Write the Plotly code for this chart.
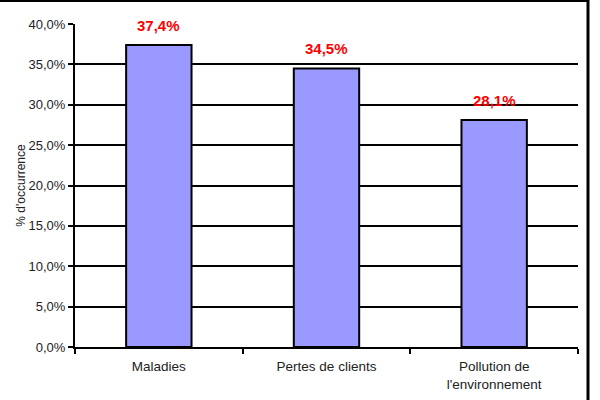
import plotly.graph_objects as go

categories = ["Maladies", "Pertes de clients", "Pollution de<br>l'environnement"]
values = [37.4, 34.5, 28.1]
labels = ["37,4%", "34,5%", "28,1%"]
y_ticks = [0, 5, 10, 15, 20, 25, 30, 35, 40]
y_tick_text = ["0,0%", "5,0%", "10,0%", "15,0%", "20,0%", "25,0%", "30,0%", "35,0%", "40,0%"]

fig = go.Figure()
fig.add_trace(go.Bar(
    x=categories, y=values, width=0.39,
    marker=dict(color="#9999FF", line=dict(color="black", width=2)),
    hoverinfo="skip",
))
for c, v, t in zip(categories, values, labels):
    fig.add_annotation(x=c, y=v, text=t, showarrow=False, yanchor="bottom", yshift=9,
                       font=dict(family="Liberation Sans, Arial", size=15, color="#FF0000", weight="bold"))

L, R, T, B = 75, 22, 24, 53
W, H = 600, 400
pw, ph = W - L - R, H - T - B
fig.add_shape(type="line", xref="paper", yref="paper",
              x0=-L / pw, x1=(589 - L) / pw, y0=(H - B - 1) / ph, y1=(H - B - 1) / ph,
              line=dict(color="black", width=2))
fig.add_shape(type="line", xref="paper", yref="paper",
              x0=(588 - L) / pw, x1=(588 - L) / pw, y0=(H - B) / ph, y1=-B / ph,
              line=dict(color="black", width=3))

fig.update_layout(
    width=W, height=H, margin=dict(l=L, r=R, t=T, b=B, autoexpand=False),
    paper_bgcolor="white", plot_bgcolor="white",
    showlegend=False,
    font=dict(family="Liberation Sans, Arial", size=13, color="#222222"),
    xaxis=dict(showline=True, linecolor="black", linewidth=2, ticks="outside", tickson="boundaries",
               ticklen=5, tickwidth=2, tickcolor="black", showgrid=False, tickfont=dict(size=13.5),
               ticklabelstandoff=6, automargin=False),
    yaxis=dict(range=[0, 40], tickvals=y_ticks, ticktext=y_tick_text, automargin=False,
               showline=True, linecolor="black", linewidth=2, ticks="outside", ticklen=5,
               tickwidth=2, tickcolor="black", showgrid=True, gridcolor="black", gridwidth=2,
               zeroline=False, tickfont=dict(size=13),
               title=dict(text="% d'occurrence", font=dict(size=12), standoff=0)),
)
fig.write_html("out.html", config={"displayModeBar": False},
               post_script="document.body.style.margin='0';")
